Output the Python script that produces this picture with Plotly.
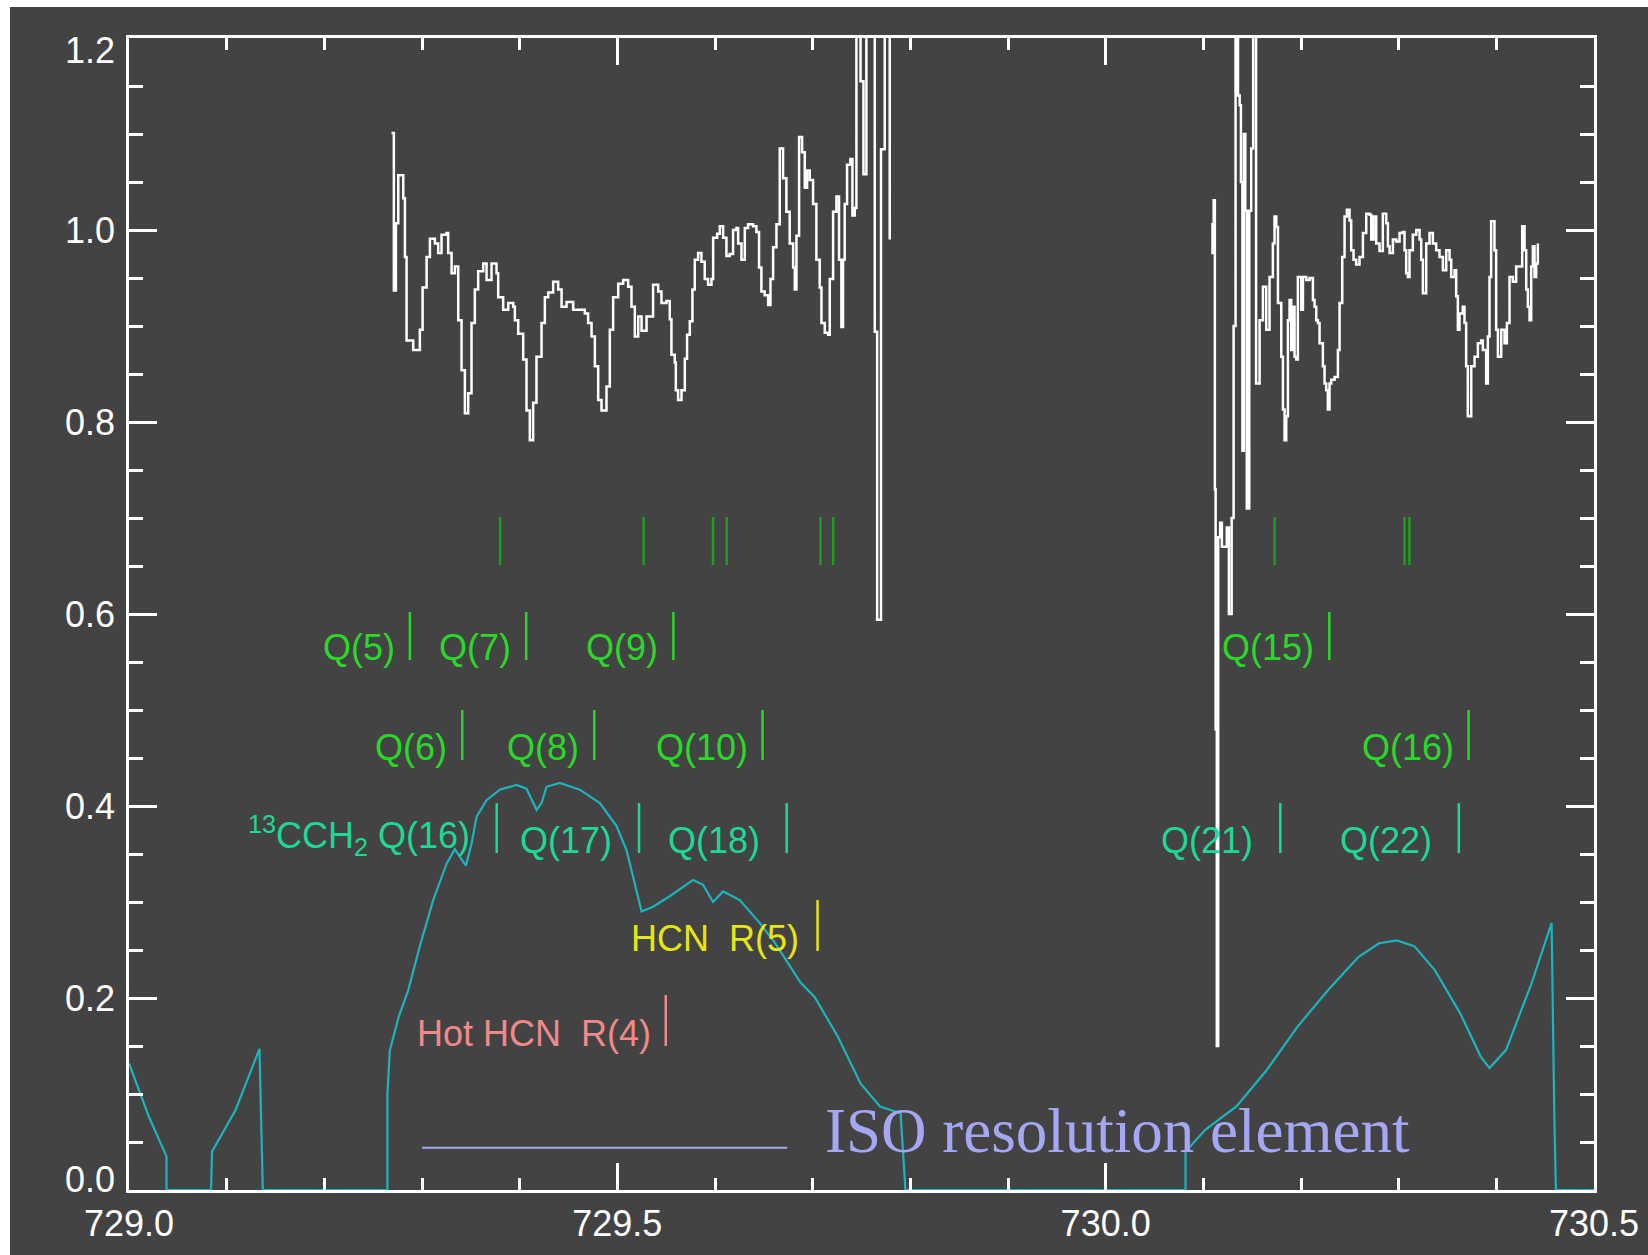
import plotly.graph_objects as go

# ---------------------------------------------------------------------------
# Observed spectrum (normalised flux), two scan windows, drawn as steps
# ---------------------------------------------------------------------------
seg1_wn = [
    729.2688, 729.2712, 729.2733, 729.2757, 729.2808, 729.2825, 729.2842, 729.2910,
    729.2978, 729.3006, 729.3047, 729.3081, 729.3132, 729.3166, 729.3200, 729.3251,
    729.3268, 729.3303, 729.3337, 729.3371, 729.3405, 729.3439, 729.3473, 729.3507,
    729.3541, 729.3575, 729.3627, 729.3661, 729.3712, 729.3763, 729.3780, 729.3831,
    729.3883, 729.3934, 729.3951, 729.3985, 729.4036, 729.4070, 729.4104, 729.4138,
    729.4172, 729.4224, 729.4258, 729.4292, 729.4343, 729.4394, 729.4429, 729.4480,
    729.4548, 729.4667, 729.4701, 729.4736, 729.4770, 729.4804, 729.4838, 729.4889,
    729.4923, 729.4957, 729.5009, 729.5060, 729.5111, 729.5145, 729.5179, 729.5214,
    729.5248, 729.5299, 729.5366, 729.5418, 729.5452, 729.5503, 729.5537, 729.5554,
    729.5588, 729.5599, 729.5622, 729.5657, 729.5691, 729.5714, 729.5742, 729.5769,
    729.5793, 729.5827, 729.5861, 729.5895, 729.5929, 729.5964, 729.5981, 729.6022,
    729.6049, 729.6083, 729.6117, 729.6151, 729.6185, 729.6219, 729.6237, 729.6271,
    729.6305, 729.6339, 729.6390, 729.6424, 729.6451, 729.6475, 729.6509, 729.6544,
    729.6568, 729.6595, 729.6629, 729.6663, 729.6697, 729.6731, 729.6765, 729.6800,
    729.6817, 729.6834, 729.6861, 729.6892, 729.6919, 729.6943, 729.6970, 729.7004,
    729.7038, 729.7072, 729.7090, 729.7124, 729.7158, 729.7175, 729.7209, 729.7243,
    729.7270, 729.7294, 729.7311, 729.7328, 729.7352, 729.7386, 729.7407, 729.7431,
    729.7448, 729.7490, 729.7520, 729.7550, 729.7636, 729.7660, 729.7700, 729.7738,
    729.7789,
]
seg1_flux = [
    1.101, 0.937, 1.007, 1.057, 1.033, 0.972, 0.885, 0.875,
    0.896, 0.940, 0.972, 0.991, 0.986, 0.976, 0.995, 0.997,
    0.976, 0.955, 0.962, 0.906, 0.854, 0.809, 0.830, 0.903,
    0.938, 0.957, 0.965, 0.948, 0.965, 0.955, 0.930, 0.917,
    0.924, 0.920, 0.906, 0.892, 0.865, 0.812, 0.781, 0.820,
    0.868, 0.903, 0.930, 0.935, 0.946, 0.938, 0.920, 0.925,
    0.917, 0.913, 0.903, 0.889, 0.858, 0.823, 0.812, 0.837,
    0.896, 0.930, 0.944, 0.948, 0.941, 0.920, 0.889, 0.910,
    0.895, 0.910, 0.943, 0.936, 0.924, 0.926, 0.907, 0.870,
    0.862, 0.833, 0.823, 0.833, 0.866, 0.891, 0.905, 0.938,
    0.969, 0.976, 0.967, 0.949, 0.943, 0.949, 0.992, 0.996,
    1.004, 0.992, 0.973, 0.975, 1.000, 1.002, 0.986, 0.969,
    1.002, 1.006, 1.004, 0.998, 0.961, 0.936, 0.932, 0.922,
    0.949, 0.982, 1.006, 1.085, 1.054, 1.019, 0.986, 0.961,
    0.938, 0.994, 1.097, 1.081, 1.044, 1.062, 1.052, 1.027,
    0.969, 0.940, 0.903, 0.893, 0.891, 0.949, 1.019, 1.035,
    0.969, 0.899, 0.969, 1.027, 1.068, 1.074, 1.015, 1.023,
    1.260, 1.155, 1.058, 1.300, 0.894, 0.594, 1.084, 1.300,
    0.990,
]

seg2_wn = [
    730.1080, 730.1094, 730.1106, 730.1118, 730.1126, 730.1138, 730.1152, 730.1172,
    730.1190, 730.1240, 730.1262, 730.1290, 730.1310, 730.1330, 730.1355, 730.1372,
    730.1385, 730.1400, 730.1415, 730.1430, 730.1445, 730.1470, 730.1490, 730.1510,
    730.1540, 730.1576, 730.1610, 730.1644, 730.1678, 730.1712, 730.1729, 730.1747,
    730.1764, 730.1798, 730.1815, 730.1832, 730.1849, 730.1866, 730.1883, 730.1900,
    730.1917, 730.1934, 730.1951, 730.1968, 730.2003, 730.2020, 730.2054, 730.2088,
    730.2122, 730.2139, 730.2156, 730.2173, 730.2190, 730.2224, 730.2241, 730.2258,
    730.2275, 730.2292, 730.2310, 730.2344, 730.2378, 730.2395, 730.2422, 730.2446,
    730.2470, 730.2497, 730.2514, 730.2538, 730.2565, 730.2599, 730.2634, 730.2668,
    730.2702, 730.2719, 730.2743, 730.2770, 730.2804, 730.2838, 730.2873, 730.2890,
    730.2907, 730.2941, 730.2975, 730.3009, 730.3043, 730.3060, 730.3077, 730.3094,
    730.3111, 730.3145, 730.3180, 730.3214, 730.3231, 730.3248, 730.3282, 730.3316,
    730.3350, 730.3384, 730.3418, 730.3453, 730.3487, 730.3521, 730.3538, 730.3572,
    730.3589, 730.3606, 730.3623, 730.3657, 730.3674, 730.3691, 730.3708, 730.3743,
    730.3777, 730.3811, 730.3845, 730.3862, 730.3896, 730.3913, 730.3930, 730.3947,
    730.3981, 730.3998, 730.4016, 730.4050, 730.4084, 730.4108, 730.4135, 730.4169,
    730.4203, 730.4237, 730.4265, 730.4289, 730.4306, 730.4323, 730.4340, 730.4357,
    730.4374, 730.4391, 730.4408, 730.4425,
]
seg2_flux = [
    1.006, 0.976, 1.031, 0.730, 0.480, 0.150, 0.680, 0.695,
    0.670, 0.690, 0.600, 0.700, 0.900, 1.300, 1.140, 1.130,
    1.050, 0.770, 1.100, 1.020, 0.710, 1.020, 1.085, 1.300,
    0.840, 0.906, 0.941, 0.896, 0.951, 0.986, 1.014, 1.003,
    0.924, 0.868, 0.813, 0.781, 0.806, 0.906, 0.927, 0.875,
    0.920, 0.868, 0.865, 0.951, 0.917, 0.951, 0.948, 0.950,
    0.927, 0.920, 0.906, 0.903, 0.882, 0.858, 0.840, 0.833,
    0.813, 0.840, 0.844, 0.847, 0.875, 0.924, 0.972, 1.014,
    1.021, 1.010, 0.979, 0.969, 0.964, 0.972, 0.997, 1.017,
    1.016, 0.990, 1.014, 0.986, 0.978, 1.017, 1.007, 0.983,
    0.976, 0.990, 0.988, 0.997, 0.998, 0.979, 0.955, 0.951,
    0.979, 0.995, 1.000, 0.990, 0.969, 0.934, 0.986, 0.997,
    0.986, 0.979, 0.972, 0.958, 0.979, 0.969, 0.951, 0.958,
    0.931, 0.896, 0.913, 0.920, 0.903, 0.858, 0.806, 0.858,
    0.868, 0.882, 0.885, 0.875, 0.840, 0.889, 0.951, 1.009,
    0.979, 0.896, 0.868, 0.896, 0.882, 0.903, 0.951, 0.946,
    0.962, 0.962, 1.004, 0.979, 0.938, 0.920, 0.906, 0.962,
    0.983, 0.951, 0.965, 0.986,
]

# ---------------------------------------------------------------------------
# Atmospheric transmission (cyan curve)
# ---------------------------------------------------------------------------
atm_wn = [
    729.0000, 729.0205, 729.0384, 729.0384, 729.0840, 729.0850, 729.1090, 729.1336,
    729.1370, 729.2646, 729.2646, 729.2670, 729.2760, 729.2859, 729.2978, 729.3115,
    729.3252, 729.3337, 729.3388, 729.3450, 729.3508, 729.3559, 729.3661, 729.3797,
    729.3968, 729.4070, 729.4173, 729.4224, 729.4275, 729.4411, 729.4616, 729.4821,
    729.4992, 729.5094, 729.5179, 729.5248, 729.5366, 729.5537, 729.5776, 729.5878,
    729.5980, 729.6083, 729.6254, 729.6459, 729.6610, 729.6876, 729.7020, 729.7257,
    729.7490, 729.7690, 729.7900, 729.7950, 730.0818, 730.0818, 730.1023, 730.1339,
    730.1650, 730.1963, 730.2276, 730.2590, 730.2800, 730.2980, 730.3160, 730.3370,
    730.3630, 730.3840, 730.3930, 730.4100, 730.4360, 730.4566, 730.4594, 730.4610,
    730.5000,
]
atm_tr = [
    0.132, 0.076, 0.035, 0.000, 0.000, 0.040, 0.083, 0.147,
    0.000, 0.000, 0.100, 0.145, 0.180, 0.208, 0.254, 0.302,
    0.340, 0.355, 0.347, 0.338, 0.361, 0.389, 0.406, 0.417,
    0.422, 0.418, 0.396, 0.403, 0.420, 0.424, 0.417, 0.403,
    0.379, 0.354, 0.319, 0.290, 0.295, 0.306, 0.323, 0.318,
    0.300, 0.311, 0.302, 0.278, 0.258, 0.216, 0.201, 0.160,
    0.111, 0.087, 0.080, 0.000, 0.000, 0.040, 0.063, 0.087,
    0.125, 0.170, 0.208, 0.243, 0.257, 0.260, 0.254, 0.229,
    0.184, 0.139, 0.127, 0.146, 0.215, 0.278, 0.076, 0.000,
    0.000,
]

# ---------------------------------------------------------------------------
# Line identifications (wavenumber of each marker)
# ---------------------------------------------------------------------------
c2h2_row1_labels = ["Q(5)", "Q(7)", "Q(9)", "Q(15)"]
c2h2_row1_wn = [729.2876, 729.4067, 729.5574, 730.2290]
c2h2_row2_labels = ["Q(6)", "Q(8)", "Q(10)", "Q(16)"]
c2h2_row2_wn = [729.3412, 729.4764, 729.6487, 730.3716]
c13_labels = ["<sup>13</sup>CCH<sub>2</sub> Q(16)", "Q(17)", "Q(18)", "Q(21)", "Q(22)"]
c13_wn = [729.3765, 729.5222, 729.6734, 730.1788, 730.3616]
hcn_label = "HCN  R(5)"
hcn_wn = 729.7050
hot_hcn_label = "Hot HCN  R(4)"
hot_hcn_wn = 729.5496
extra_lines_wn = [729.380, 729.527, 729.598, 729.612, 729.708, 729.721,
                  730.173, 730.306, 730.311]

# ISO resolution element
iso_res_start = 729.300
iso_res_width = 0.374
iso_res_label = "ISO resolution element"

# y-axis tick values
flux_ticks = [0.0, 0.2, 0.4, 0.6, 0.8, 1.0, 1.2]

# ---------------------------------------------------------------------------
# Styling
# ---------------------------------------------------------------------------
BG = "#434343"
WHITE = "#ffffff"
CYAN = "#1cb4bd"
GREEN = "#2ad82a"
DARK_GREEN = "#1f9e1f"
TEAL = "#1ed894"
YELLOW = "#e6e614"
SALMON = "#f08a8a"
PERIWINKLE = "#a4a8f2"
LABEL_FONT = "Liberation Sans"
LABEL_SIZE = 36

# marker extents (flux units) for each identification row
ROW_EXTRA = (0.651, 0.701)
ROW1 = (0.552, 0.602)
ROW2 = (0.448, 0.500)
ROW3 = (0.351, 0.403)
ROW_HCN = (0.249, 0.302)
ROW_HOT = (0.150, 0.203)
ISO_Y = 0.044


def ticks(wns, span):
    xs, ys = [], []
    for w in wns:
        xs += [w, w, None]
        ys += [span[0], span[1], None]
    return xs, ys


fig = go.Figure()

fig.add_trace(go.Scatter(x=atm_wn, y=atm_tr, mode="lines",
                         line=dict(color=CYAN, width=2.2), hoverinfo="skip"))

for wn, fl in ((seg1_wn, seg1_flux), (seg2_wn, seg2_flux)):
    fig.add_trace(go.Scatter(x=wn, y=fl, mode="lines",
                             line=dict(color=WHITE, width=2.5, shape="hv"),
                             hoverinfo="skip"))

for wns, span, col in (
    (extra_lines_wn, ROW_EXTRA, DARK_GREEN),
    (c2h2_row1_wn, ROW1, GREEN),
    (c2h2_row2_wn, ROW2, GREEN),
    (c13_wn, ROW3, TEAL),
    ([hcn_wn], ROW_HCN, YELLOW),
    ([hot_hcn_wn], ROW_HOT, SALMON),
):
    xs, ys = ticks(wns, span)
    fig.add_trace(go.Scatter(x=xs, y=ys, mode="lines",
                             line=dict(color=col, width=2.5), hoverinfo="skip"))

fig.add_trace(go.Scatter(x=[iso_res_start, iso_res_start + iso_res_width],
                         y=[ISO_Y, ISO_Y], mode="lines",
                         line=dict(color=PERIWINKLE, width=2), hoverinfo="skip"))

annotations = []


def label(text, x, y, color, gap):
    annotations.append(dict(
        x=x, y=y, xref="x", yref="y", text=text, showarrow=False,
        xanchor="right", yanchor="bottom", xshift=-gap, yshift=-10,
        font=dict(family=LABEL_FONT, size=LABEL_SIZE, color=color)))


for t, w in zip(c2h2_row1_labels, c2h2_row1_wn):
    label(t, w, ROW1[0], GREEN, 13)
for t, w in zip(c2h2_row2_labels, c2h2_row2_wn):
    label(t, w, ROW2[0], GREEN, 13)
for t, w in zip(c13_labels, c13_wn):
    label(t, w, ROW3[0], TEAL, 25)
label(hcn_label, hcn_wn, ROW_HCN[0], YELLOW, 17)
label(hot_hcn_label, hot_hcn_wn, ROW_HOT[0], SALMON, 13)

annotations.append(dict(
    x=729.711, y=0.0385, xref="x", yref="y", text=iso_res_label,
    showarrow=False, xanchor="left", yanchor="bottom", yshift=-15,
    font=dict(family="Liberation Serif", size=63, color=PERIWINKLE)))

# y tick labels; the end labels sit slightly inside the frame
for v in flux_ticks:
    shift = 11 if v == flux_ticks[0] else (-12 if v == flux_ticks[-1] else 0)
    annotations.append(dict(
        x=0, xref="paper", y=v, yref="y", text=f"{v:.1f}", showarrow=False,
        xanchor="right", yanchor="middle", xshift=-12, yshift=shift,
        font=dict(family=LABEL_FONT, size=LABEL_SIZE, color=WHITE)))

# plot area in pixels: left 129, right 1594, top 38, bottom 1190
PW, PH = 1465.0, 1152.0
shapes = [
    dict(type="rect", xref="paper", yref="paper", layer="below",
         x0=-129 / PW, x1=(10 - 129) / PW, y0=-65 / PH, y1=1190 / PH,
         fillcolor="white", line=dict(width=0)),
    dict(type="rect", xref="paper", yref="paper", layer="below",
         x0=-129 / PW, x1=1519 / PW, y0=(1190 - 7) / PH, y1=1190 / PH,
         fillcolor="white", line=dict(width=0)),
]

fig.update_layout(
    width=1648, height=1255,
    margin=dict(l=129, r=54, t=38, b=65, pad=0, autoexpand=False),
    paper_bgcolor=BG, plot_bgcolor=BG,
    showlegend=False,
    font=dict(family=LABEL_FONT, color=WHITE, size=LABEL_SIZE),
    annotations=annotations,
    shapes=shapes,
)

axis_common = dict(
    ticks="inside", tickcolor=WHITE, tickwidth=2.5, automargin=False,
    showline=True, linecolor=WHITE, linewidth=2.5, mirror="ticks",
    showgrid=False, zeroline=False, tickformat=".1f",
    tickfont=dict(family=LABEL_FONT, size=LABEL_SIZE, color=WHITE),
)

fig.update_xaxes(range=[729.0, 730.5], tick0=729.0, dtick=0.5, ticklen=27,
                 ticklabelstandoff=0,
                 minor=dict(dtick=0.1, ticks="inside", ticklen=12,
                            tickwidth=2.5, tickcolor=WHITE, showgrid=False),
                 **axis_common)
fig.update_yaxes(range=[0.0, 1.2], tick0=0.0, dtick=0.2, ticklen=28,
                 showticklabels=False,
                 minor=dict(dtick=0.05, ticks="inside", ticklen=14,
                            tickwidth=2.5, tickcolor=WHITE, showgrid=False),
                 **axis_common)

fig.write_html("out.html")
